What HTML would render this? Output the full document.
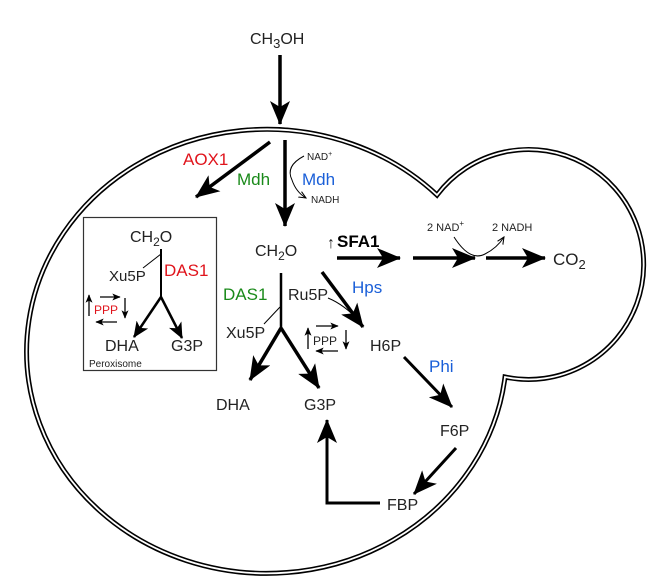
<!DOCTYPE html>
<html><head><meta charset="utf-8"><style>
html,body{margin:0;padding:0;background:#fff}
svg{display:block}
text{font-family:"Liberation Sans",sans-serif;fill:#222}
</style></head><body>
<svg width="648" height="581" viewBox="0 0 648 581" xmlns="http://www.w3.org/2000/svg">
<defs>
<marker id="ah" viewBox="0 0 24 20" refX="23" refY="10" markerWidth="24" markerHeight="20" markerUnits="userSpaceOnUse" orient="auto"><path d="M0,0 L24,10 L0,20 L6,10 Z" fill="#000"/></marker>
<marker id="am" viewBox="0 0 16 14" refX="15" refY="7" markerWidth="16" markerHeight="14" markerUnits="userSpaceOnUse" orient="auto"><path d="M0,0 L16,7 L0,14 L4,7 Z" fill="#000"/></marker>
<marker id="as" viewBox="0 0 12 10" refX="11" refY="5" markerWidth="9" markerHeight="7" markerUnits="userSpaceOnUse" orient="auto"><path d="M0,0 L12,5 L0,10 L3,5 Z" fill="#000"/></marker>
<marker id="ao" viewBox="0 0 10 10" refX="9" refY="5" markerWidth="8" markerHeight="8" markerUnits="userSpaceOnUse" orient="auto"><path d="M0,1 L9,5 L0,9" fill="none" stroke="#000" stroke-width="1.3"/></marker>
</defs>
<path d="M437,195 A240,222 0 1,0 505,377 A115,115 0 1,0 437,195 Z" fill="none" stroke="#000" stroke-width="5"/>
<path d="M437,195 A240,222 0 1,0 505,377 A115,115 0 1,0 437,195 Z" fill="none" stroke="#fff" stroke-width="1.8"/>

<text x="250" y="44" font-size="16">CH<tspan font-size="13" dy="4">3</tspan><tspan dy="-4">OH</tspan></text>
<line x1="280" y1="55" x2="280" y2="124" stroke="#000" stroke-width="3.5" marker-end="url(#ah)"/>

<line x1="270" y1="142" x2="196" y2="197" stroke="#000" stroke-width="3.5" marker-end="url(#ah)"/>
<text x="183" y="165" font-size="17" style="fill:#e0141c">AOX1</text>
<line x1="285" y1="140" x2="285" y2="226" stroke="#000" stroke-width="3.5" marker-end="url(#ah)"/>
<text x="237" y="185" font-size="17" style="fill:#1a8a1a">Mdh</text>
<text x="302" y="185" font-size="17" style="fill:#1a5fd8">Mdh</text>
<text x="307" y="160" font-size="10">NAD<tspan font-size="7" dy="-4">+</tspan></text>
<text x="311" y="203" font-size="10">NADH</text>
<path d="M304,156 Q285,166 292,180 Q296,192 306,198" fill="none" stroke="#000" stroke-width="1" marker-end="url(#ao)"/>

<rect x="83.5" y="217.5" width="133" height="153" fill="none" stroke="#333" stroke-width="1.2"/>
<text x="130" y="242" font-size="16">CH<tspan font-size="12" dy="4">2</tspan><tspan dy="-4">O</tspan></text>
<line x1="161" y1="249" x2="161" y2="298" stroke="#000" stroke-width="2"/>
<line x1="161" y1="254" x2="143" y2="268" stroke="#000" stroke-width="1"/>
<text x="109" y="281" font-size="15">Xu5P</text>
<text x="164" y="276" font-size="17" style="fill:#e0141c">DAS1</text>
<line x1="161" y1="297" x2="134" y2="337" stroke="#000" stroke-width="2.5" marker-end="url(#am)"/>
<line x1="161" y1="297" x2="182" y2="338" stroke="#000" stroke-width="2.5" marker-end="url(#am)"/>
<text x="105" y="351" font-size="16">DHA</text>
<text x="171" y="351" font-size="16">G3P</text>
<text x="89" y="367" font-size="10">Peroxisome</text>
<text x="94" y="314" font-size="12" style="fill:#e0141c">PPP</text>
<line x1="89" y1="316" x2="89" y2="295" stroke="#000" stroke-width="1.3" marker-end="url(#as)"/>
<line x1="100" y1="297" x2="120" y2="297" stroke="#000" stroke-width="1.3" marker-end="url(#as)"/>
<line x1="125" y1="298" x2="125" y2="318" stroke="#000" stroke-width="1.3" marker-end="url(#as)"/>
<line x1="117" y1="322" x2="96" y2="322" stroke="#000" stroke-width="1.3" marker-end="url(#as)"/>

<text x="255" y="256" font-size="16">CH<tspan font-size="12" dy="4">2</tspan><tspan dy="-4">O</tspan></text>
<line x1="281" y1="273" x2="281" y2="329" stroke="#000" stroke-width="2.5"/>
<line x1="280" y1="307" x2="264" y2="324" stroke="#000" stroke-width="1"/>
<text x="223" y="300" font-size="17" style="fill:#1a8a1a">DAS1</text>
<text x="288" y="300" font-size="16">Ru5P</text>
<text x="226" y="338" font-size="16">Xu5P</text>
<line x1="281" y1="328" x2="250" y2="380" stroke="#000" stroke-width="3.5" marker-end="url(#ah)"/>
<line x1="281" y1="328" x2="319" y2="388" stroke="#000" stroke-width="3.5" marker-end="url(#ah)"/>
<text x="216" y="410" font-size="16">DHA</text>
<text x="304" y="410" font-size="16">G3P</text>
<text x="313" y="345" font-size="12">PPP</text>
<line x1="308" y1="349" x2="308" y2="328" stroke="#000" stroke-width="1.3" marker-end="url(#as)"/>
<line x1="316" y1="326" x2="338" y2="326" stroke="#000" stroke-width="1.3" marker-end="url(#as)"/>
<line x1="346" y1="330" x2="346" y2="349" stroke="#000" stroke-width="1.3" marker-end="url(#as)"/>
<line x1="338" y1="351" x2="316" y2="351" stroke="#000" stroke-width="1.3" marker-end="url(#as)"/>

<line x1="322" y1="272" x2="363" y2="327" stroke="#000" stroke-width="3.5" marker-end="url(#ah)"/>
<path d="M328,298 Q345,305 360,322" fill="none" stroke="#000" stroke-width="1"/>
<text x="352" y="293" font-size="17" style="fill:#1a5fd8">Hps</text>
<text x="370" y="351" font-size="16">H6P</text>
<line x1="404" y1="357" x2="452" y2="407" stroke="#000" stroke-width="3" marker-end="url(#ah)"/>
<text x="429" y="372" font-size="17" style="fill:#1a5fd8">Phi</text>
<text x="440" y="436" font-size="16">F6P</text>
<line x1="456" y1="448" x2="414" y2="494" stroke="#000" stroke-width="3" marker-end="url(#ah)"/>
<text x="387" y="510" font-size="16">FBP</text>
<path d="M380,503 L327,503 L327,420" fill="none" stroke="#000" stroke-width="3" marker-end="url(#ah)"/>

<text x="327" y="248" font-size="16">↑</text>
<text x="337" y="247" font-size="17" font-weight="bold" style="fill:#000">SFA1</text>
<line x1="337" y1="258" x2="400" y2="258" stroke="#000" stroke-width="3.5" marker-end="url(#ah)"/>
<line x1="413" y1="258" x2="475" y2="258" stroke="#000" stroke-width="3.5" marker-end="url(#ah)"/>
<line x1="486" y1="258" x2="545" y2="258" stroke="#000" stroke-width="3.5" marker-end="url(#ah)"/>
<text x="427" y="231" font-size="11">2 NAD<tspan font-size="8" dy="-5">+</tspan></text>
<text x="492" y="231" font-size="11">2 NADH</text>
<path d="M454,237 Q470,262 485,254 Q497,248 504,237" fill="none" stroke="#000" stroke-width="1" marker-end="url(#ao)"/>
<text x="553" y="265" font-size="17">CO<tspan font-size="13" dy="4">2</tspan></text>
</svg>
</body></html>
